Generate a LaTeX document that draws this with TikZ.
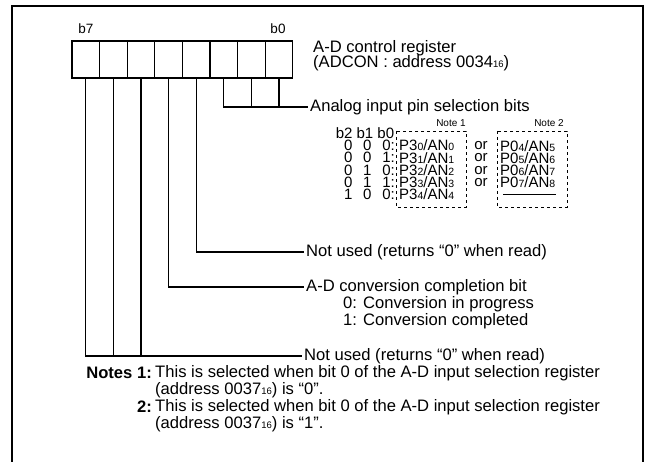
\documentclass[tikz,border=0pt]{standalone}
\usepackage{fontspec}
\setmainfont{Liberation Sans}
\usetikzlibrary{positioning}

\newcommand{\sm}[1]{{\fontsize{9.5}{10}\selectfont #1}}
\newcommand{\tsm}[1]{{\fontsize{10.5}{10}\selectfont #1}}
\newcommand{\bitrow}[3]{#1\hspace{0.72em}#2\hspace{0.72em}#3:}

\begin{document}
\begin{tikzpicture}[x=1pt,y=-1pt,
  cell/.style={draw,line width=1.2pt,minimum width=27.6pt,minimum height=37pt,inner sep=0pt,outer sep=0pt},
  lbl/.style={anchor=west,inner xsep=2pt,inner ysep=0pt,font=\fontsize{16.6}{17}\selectfont},
  tbl/.style={inner sep=0pt,font=\fontsize{15}{12.2}\selectfont},
  conn/.style={line width=1.2pt},
  dashbox/.style={draw,dashed,line width=0.9pt}]
\useasboundingbox (0,0) rectangle (645,462);
% frame
\draw[line width=2pt] (12,462) -- (12,6) -- (643,6) -- (643,462);
% register cells
\node[cell] (bit7) at (85.8,59.5) {};
\foreach \i [evaluate=\i as \j using int(\i+1)] in {6,...,0}
  \node[cell,right=0pt of bit\j] (bit\i) {};
\node[tbl,font=\fontsize{13.5}{14}\selectfont] (b7lbl) at (86,29) {b7};
\node[tbl,font=\fontsize{13.5}{14}\selectfont] (b0lbl) at (278,29) {b0};
\node[lbl] (regname) at (311,48) {A-D control register};
\node[lbl] (regaddr) at (311,63) {(ADCON : address 0034\sm{16})};
% bit labels
\node[lbl] (anasel) at (308,107) {Analog input pin selection bits};
\node[lbl] (unused1) at (304,252) {Not used (returns ``0'' when read)};
\node[lbl] (adcbit) at (304,287) {A-D conversion completion bit};
\node[lbl] (adc0) at (341,304) {0: Conversion in progress};
\node[lbl] (adc1) at (341,321) {1: Conversion completed};
\node[lbl] (unused2) at (302,356) {Not used (returns ``0'' when read)};
% connectors
\draw[conn] (bit2.south) |- (anasel.west);
\draw[conn] (bit1.south) -- (bit1.south |- anasel.west);
\draw[conn] (bit0.south) -- (bit0.south |- anasel.west);
\draw[conn] (bit3.south) |- (unused1.west);
\draw[conn] (bit4.south) |- (adcbit.west);
\draw[conn] (bit7.south) |- (unused2.west);
\draw[conn] (bit6.south) -- (bit6.south |- unused2.west);
\draw[conn] (bit5.south) -- (bit5.south |- unused2.west);
% selection table
\node[tbl] (bhead) at (365,133) {b2 b1 b0};
\node[tbl,font=\fontsize{10}{10}\selectfont] (note1) at (451,123) {Note 1};
\node[tbl,font=\fontsize{10}{10}\selectfont] (note2) at (549,123) {Note 2};
\draw[dashbox] (396,131) rectangle (466,207);
\draw[dashbox] (497,131) rectangle (567,207);
\node[tbl,align=right,anchor=east] (bitcol) at (395,170)
  {\bitrow000\\ \bitrow001\\ \bitrow010\\ \bitrow011\\ \bitrow100};
\node[tbl,align=left,anchor=west] (p3col) at (399,170)
  {P3\tsm0/AN\tsm0\\ P3\tsm1/AN\tsm1\\ P3\tsm2/AN\tsm2\\ P3\tsm3/AN\tsm3\\ P3\tsm4/AN\tsm4};
\node[tbl,align=center] (orcol) at (481,164) {or\\ or\\ or\\ or};
\node[tbl,align=left,anchor=west] (p0col) at (500,164)
  {P0\tsm4/AN\tsm5\\ P0\tsm5/AN\tsm6\\ P0\tsm6/AN\tsm7\\ P0\tsm7/AN\tsm8};
\draw[line width=0.9pt] (503,194.3) -- (556,194.3);
% notes
\node[lbl,anchor=east] (notes1) at (154,373) {\textbf{Notes 1:}};
\node[lbl] (notes1a) at (153,373) {This is selected when bit 0 of the A-D input selection register};
\node[lbl] (notes1b) at (153,390) {(address 0037\sm{16}) is ``0''.};
\node[lbl,anchor=east] (notes2) at (154,407) {\textbf{2:}};
\node[lbl] (notes2a) at (153,407) {This is selected when bit 0 of the A-D input selection register};
\node[lbl] (notes2b) at (153,424) {(address 0037\sm{16}) is ``1''.};
\end{tikzpicture}
\end{document}
